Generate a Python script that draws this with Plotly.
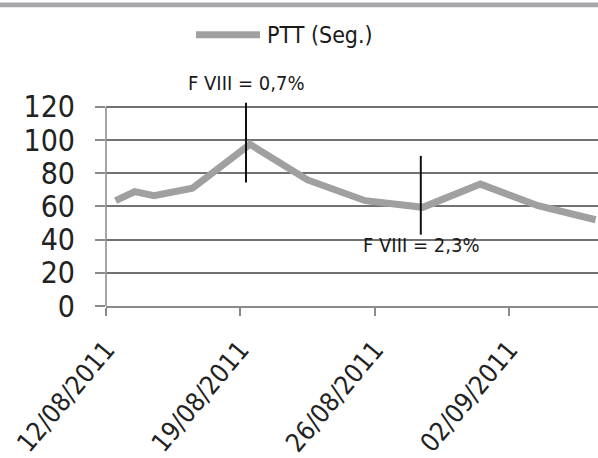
import pandas as pd
import plotly.graph_objects as go

# ---- data ----
dates = ["2011-08-12", "2011-08-13", "2011-08-14", "2011-08-16", "2011-08-19",
         "2011-08-22", "2011-08-25", "2011-08-28", "2011-08-31", "2011-09-03",
         "2011-09-06"]
ptt = [63.5, 69, 66.5, 71, 97.5, 76, 63.5, 59.5, 73.5, 60.5, 52]
series_name = "PTT (Seg.)"

marker_dates = ["2011-08-19 07:00", "2011-08-28 09:30"]
marker_low = [74.5, 43]
marker_high = [122.5, 90.5]
marker_text = ["F VIII = 0,7%", "F VIII = 2,3%"]
marker_text_y = [134.5, 36.5]

tick_dates = ["2011-08-12", "2011-08-19", "2011-08-26", "2011-09-02"]
y_ticks = [0, 20, 40, 60, 80, 100, 120]

# Excel date axis puts each point in the middle of its day
x_pts = pd.to_datetime(dates) + pd.Timedelta(hours=12)

FONT = "DejaVu Sans Condensed, DejaVu Sans, sans-serif"
W, H = 598, 458
ML, MR, MT, MB = 106, 0, 102, 147
PW, PH = W - ML - MR, H - MT - MB
Y_MAX = 123

def px(xp):
    return (xp - ML) / PW

def py(yp):
    return (H - MB - yp) / PH

fig = go.Figure()
fig.add_trace(go.Scatter(
    x=x_pts, y=ptt, mode="lines", name=series_name,
    line=dict(color="#a0a0a0", width=7), showlegend=False,
))

shapes = []
annotations = []
# vertical marker lines + labels
for d, lo, hi, t, ty in zip(marker_dates, marker_low, marker_high, marker_text, marker_text_y):
    shapes.append(dict(type="line", xref="x", yref="y", x0=d, x1=d, y0=lo, y1=hi,
                       line=dict(color="#111111", width=2)))
    annotations.append(dict(x=d, y=ty / Y_MAX, xref="x", yref="paper", text=t, showarrow=False,
                            font=dict(family=FONT, size=20, color="#1a1a1a"),
                            xanchor="center", yanchor="middle"))

# y axis line (only up to 120)
shapes.append(dict(type="line", xref="paper", yref="y", x0=0, x1=0, y0=0, y1=120,
                   line=dict(color="#8a8a8a", width=1.5)))
# top grey bar
shapes.append(dict(type="rect", xref="paper", yref="paper", x0=px(0), x1=px(W),
                   y0=py(5), y1=py(0), fillcolor="#a7a7ab", line=dict(width=0)))
# manual legend
shapes.append(dict(type="line", xref="paper", yref="paper", x0=px(196), x1=px(260),
                   y0=py(33), y1=py(33), line=dict(color="#a0a0a0", width=7)))
annotations.append(dict(x=px(265), y=py(33), xref="paper", yref="paper",
                        text=series_name, showarrow=False, xanchor="left", yanchor="middle",
                        font=dict(family=FONT, size=23, color="#1a1a1a")))

fig.update_layout(
    width=W, height=H,
    margin=dict(l=ML, r=MR, t=MT, b=MB),
    paper_bgcolor="white", plot_bgcolor="white",
    shapes=shapes, annotations=annotations,
    font=dict(family=FONT, color="#222222"),
)
fig.update_xaxes(
    type="date",
    range=[pd.Timestamp("2011-08-12"), pd.Timestamp("2011-08-12") + pd.Timedelta(days=25.625)],
    tickvals=pd.to_datetime(tick_dates), tickformat="%d/%m/%Y",
    tickangle=-50, tickfont=dict(family=FONT, size=26, color="#222222"),
    ticks="outside", ticklen=8, tickcolor="#8a8a8a", tickwidth=1.5,
    showline=True, linecolor="#8a8a8a", linewidth=2,
    showgrid=False, zeroline=False, ticklabelstandoff=8,
)
fig.update_yaxes(
    range=[0, Y_MAX], tickvals=y_ticks,
    tickfont=dict(family=FONT, size=30, color="#222222"),
    ticks="outside", ticklen=10, tickcolor="#8a8a8a", tickwidth=1.5,
    showline=False, showgrid=True, gridcolor="#727272", gridwidth=1.5,
    zeroline=False, ticklabelstandoff=14,
)

fig.write_html("out.html")
